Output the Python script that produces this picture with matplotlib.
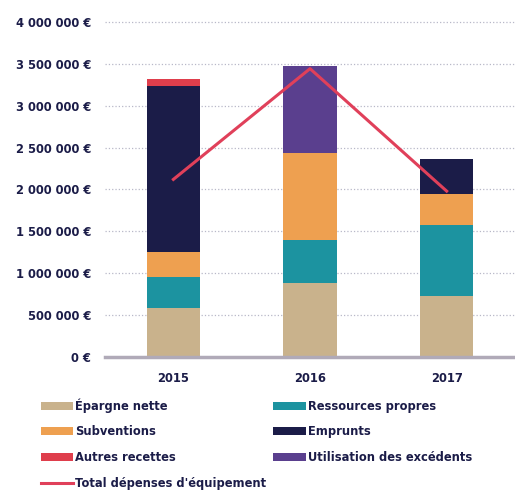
import matplotlib
matplotlib.use("Agg")
import matplotlib.pyplot as plt
import numpy as np
from matplotlib.lines import Line2D
from matplotlib.patches import Patch

annees = ["2015", "2016", "2017"]
epargne = [590000, 890000, 725000]
ressources = [370000, 510000, 855000]
subventions = [300000, 1030000, 370000]
emprunts = [1970000, 0, 410000]
autres = [90000, 0, 0]
excedents = [0, 1040000, 0]
total_depenses = [2120000, 3440000, 1980000]

series = [
    ("Épargne nette", epargne, "#c9b28c"),
    ("Ressources propres", ressources, "#1c93a0"),
    ("Subventions", subventions, "#eea050"),
    ("Emprunts", emprunts, "#1b1c48"),
    ("Autres recettes", autres, "#df3e4c"),
    ("Utilisation des excédents", excedents, "#5a3f8e"),
]
couleur_ligne = "#e0405a"
texte = "#1b1c48"


def fmt_euro(v, pos=None):
    if v == 0:
        return "0 €"
    return "{:,.0f} €".format(v).replace(",", " ")


fig = plt.figure(figsize=(5.15, 4.9), dpi=100)
ax = fig.add_axes([0.204, 0.271, 0.796, 0.695])

x = np.arange(len(annees))
bas = np.zeros(len(annees))
handles = {}
for nom, vals, col in series:
    ax.bar(x, vals, width=0.39, bottom=bas, color=col, zorder=2)
    bas += np.array(vals)
    handles[nom] = Patch(facecolor=col, label=nom)

ax.plot(x, total_depenses, color=couleur_ligne, linewidth=2.2, zorder=3)
handles["Total dépenses d'équipement"] = Line2D([0], [0], color=couleur_ligne, linewidth=2.2)

ax.set_xlim(-0.5, 2.5)
ax.set_ylim(0, 4060000)
ax.set_yticks(np.arange(0, 4000001, 500000))
ax.yaxis.set_major_formatter(plt.FuncFormatter(fmt_euro))
ax.set_xticks(x)
ax.set_xticklabels(annees)
ax.grid(axis="y", linestyle=":", color="#b8b8c8", linewidth=0.9, zorder=0)
for s in ["top", "right", "left"]:
    ax.spines[s].set_visible(False)
ax.spines["bottom"].set_color("#b0aab8")
ax.spines["bottom"].set_linewidth(2.5)
ax.tick_params(axis="y", length=0, labelsize=8.3, labelcolor=texte, pad=10)
ax.tick_params(axis="x", length=0, labelsize=8.3, labelcolor=texte, pad=11)
for lab in ax.get_yticklabels() + ax.get_xticklabels():
    lab.set_fontweight("bold")

ordre = ["Épargne nette", "Subventions", "Autres recettes", "Total dépenses d'équipement",
         "Ressources propres", "Emprunts", "Utilisation des excédents"]
leg = fig.legend([handles[n] for n in ordre], ordre, ncol=2, loc="upper left",
                 bbox_to_anchor=(0.07, 0.197), frameon=False, fontsize=8.3,
                 handlelength=2.8, handleheight=0.7, handletextpad=0.2,
                 labelspacing=1.12, columnspacing=0.6, borderaxespad=0)
for t in leg.get_texts():
    t.set_color(texte)
    t.set_fontweight("bold")

fig.savefig("out.png", dpi=100)
